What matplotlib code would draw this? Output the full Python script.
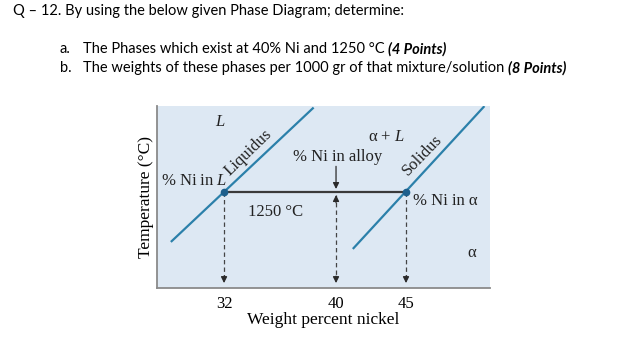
import matplotlib
matplotlib.use("Agg")
import matplotlib.pyplot as plt

# phase diagram values
liquidus_x = [28.2, 38.4]
liquidus_T = [1214, 1310]
solidus_x = [41.2, 50.6]
solidus_T = [1209, 1311]
tie_T = 1250
c_liquid = 32
c_alloy = 40
c_alpha = 45
tick_values = [32, 40, 45]
tick_labels = ["32", "40", "45"]
arrow_bottom = 1184.6

header = "Q – 12. By using the below given Phase Diagram; determine:"
items = [
    ("a.", "The Phases which exist at 40% Ni and 1250 °C ", "(4 Points)"),
    ("b.", "The weights of these phases per 1000 gr of that mixture/solution ", "(8 Points)"),
]

plt.rcParams["mathtext.fontset"] = "custom"
plt.rcParams["mathtext.rm"] = "Liberation Serif"
plt.rcParams["mathtext.it"] = "Liberation Serif:italic"

W, H = 642, 359
fig = plt.figure(figsize=(W / 100, H / 100), dpi=100)
fig.patch.set_facecolor("white")

hfont = "Lato"
sfont = "Liberation Serif"

# header text
fig.text(13 / W, 1 - 11 / H, header, family=hfont, fontsize=10.5, va="center", ha="left")
renderer = fig.canvas.get_renderer()
for i, (lab, txt, pts) in enumerate(items):
    y = 1 - (49 + 19 * i) / H
    fig.text(60 / W, y, lab, family=hfont, fontsize=10.5, va="center")
    t = fig.text(83 / W, y, txt, family=hfont, fontsize=10.5, va="center")
    bb = t.get_window_extent(renderer)
    fig.text(bb.x1 / W, y, pts, family=hfont, fontsize=10.5, va="center",
             weight="bold", style="italic")

# diagram panel
ax = fig.add_axes([157 / W, 1 - 288 / H, (490 - 157) / W, (288 - 106) / H])
ax.set_facecolor("#dde8f3")
ax.set_xlim(27.21, 51.0)
ax.set_ylim(1181.1, 1311.1)
for s in ["top", "right"]:
    ax.spines[s].set_visible(False)
for s in ["left", "bottom"]:
    ax.spines[s].set_color("#8a8a8a")
    ax.spines[s].set_linewidth(1.3)
ax.set_yticks([])
ax.set_xticks(tick_values)
ax.set_xticklabels(tick_labels, family=sfont, fontsize=12)
ax.tick_params(axis="x", length=0, pad=6)
ax.set_xlabel("Weight percent nickel", family=sfont, fontsize=12.5, labelpad=0)
ax.set_ylabel("Temperature (°C)", family=sfont, fontsize=12.5, labelpad=2)

blue = "#2b80aa"
ax.plot(liquidus_x, liquidus_T, color=blue, lw=1.6, solid_capstyle="butt")
ax.plot(solidus_x, solidus_T, color=blue, lw=1.6, solid_capstyle="butt")
ax.plot([c_liquid, c_alpha], [tie_T, tie_T], color="#3a3a3a", lw=1.6, zorder=3)
ax.plot([c_liquid, c_alpha], [tie_T, tie_T], "o", color="#1d5f8c", ms=4.5, zorder=4)

dash_col = "#444444"
arrow_kw = dict(arrowstyle="-|>", color="#2a2a2a", lw=0.9, mutation_scale=9,
                shrinkA=0, shrinkB=0)
for x, top in [(c_liquid, tie_T), (c_alloy, 1247.5), (c_alpha, tie_T)]:
    ax.plot([x, x], [top, arrow_bottom + 4], ls=(0, (3.5, 2.5)), color=dash_col, lw=0.9)
    ax.annotate("", xy=(x, arrow_bottom), xytext=(x, arrow_bottom + 5), arrowprops=arrow_kw)
# arrows at the alloy composition
ax.annotate("", xy=(c_alloy, 1251.8), xytext=(c_alloy, 1268), arrowprops=arrow_kw)
ax.annotate("", xy=(c_alloy, 1247.5), xytext=(c_alloy, 1242), arrowprops=arrow_kw)

tk = dict(family=sfont, fontsize=12, color="#222222")
ax.text(31.7, 1299.6, "L", style="italic", ha="center", va="center", **tk)
ax.text(33.7, 1278, "Liquidus", rotation=44, ha="center", va="center", **tk)
ax.text(27.5, 1257.5, r"% Ni in $L$", ha="left", va="center", **tk)
ax.text(40.1, 1274.6, "% Ni in alloy", ha="center", va="center", **tk)
ax.text(43.6, 1289, r"α + $L$", ha="center", va="center", **tk)
ax.text(46.2, 1276, "Solidus", rotation=46, ha="center", va="center", **tk)
ax.text(35.7, 1235.4, "1250 °C", ha="center", va="center", **tk)
ax.text(45.5, 1243.2, "% Ni in α", ha="left", va="center", **tk)
ax.text(49.7, 1206, "α", ha="center", va="center", **tk)

fig.savefig("out.png", dpi=100)
